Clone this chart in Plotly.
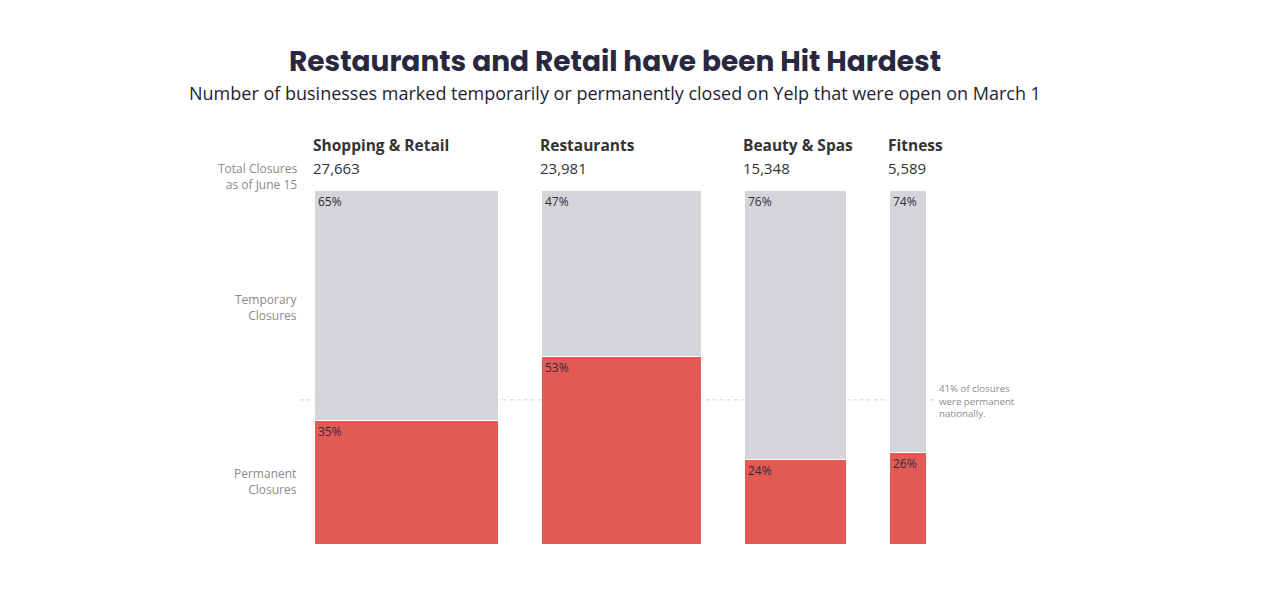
import plotly.graph_objects as go

categories = ["Shopping & Retail", "Restaurants", "Beauty & Spas", "Fitness"]
totals = [27663, 23981, 15348, 5589]
temp_pct = [65, 47, 76, 74]
perm_pct = [35, 53, 24, 26]
national_perm = 41

GAP = 6460
GREY = "#d5d4d9"
RED = "#e35a54"
TXT = "#333333"
PCT = "#2d2b3f"

lefts, centers = [], []
pos = 0
for t in totals:
    lefts.append(pos)
    centers.append(pos + t / 2)
    pos += t + GAP
xmax = pos - GAP

fig = go.Figure()
fig.add_trace(go.Bar(x=centers, y=[p / 100 for p in perm_pct], width=totals,
                     marker=dict(color=RED, line=dict(color="white", width=1)),
                     hoverinfo="skip"))
fig.add_trace(go.Bar(x=centers, y=[t / 100 for t in temp_pct], width=totals,
                     marker=dict(color=GREY, line=dict(color="white", width=1)),
                     hoverinfo="skip"))

ann = []
for i, c in enumerate(categories):
    ann.append(dict(x=lefts[i], y=1, xref="x", yref="paper", text="<b>" + c + "</b>",
                    showarrow=False, xanchor="left", yanchor="middle", yshift=46, xshift=-4,
                    font=dict(size=15.5, color=TXT, family="Open Sans")))
    ann.append(dict(x=lefts[i], y=1, xref="x", yref="paper", text=f"{totals[i]:,}",
                    showarrow=False, xanchor="left", yanchor="middle", yshift=23, xshift=-4,
                    font=dict(size=15, color=TXT, family="Open Sans")))
    ann.append(dict(x=lefts[i], y=1, xref="x", yref="y", text=f"{temp_pct[i]}%",
                    showarrow=False, xanchor="left", yanchor="top", xshift=1, yshift=0,
                    font=dict(size=12, color=PCT, family="Open Sans")))
    ann.append(dict(x=lefts[i], y=perm_pct[i] / 100, xref="x", yref="y", text=f"{perm_pct[i]}%",
                    showarrow=False, xanchor="left", yanchor="top", xshift=1, yshift=0,
                    font=dict(size=12, color=PCT, family="Open Sans")))

side_font = dict(size=12, color="#8a8a8a", family="Open Sans")
ann.append(dict(x=0, y=1, xref="paper", yref="paper", text="Total Closures<br>as of June 15",
                showarrow=False, xanchor="right", yanchor="middle", xshift=-16, yshift=15,
                align="right", font=side_font))
ann.append(dict(x=0, y=0.67, xref="paper", yref="paper", text="Temporary<br>Closures",
                showarrow=False, xanchor="right", yanchor="middle", xshift=-16,
                align="right", font=side_font))
ann.append(dict(x=0, y=0.18, xref="paper", yref="paper", text="Permanent<br>Closures",
                showarrow=False, xanchor="right", yanchor="middle", xshift=-16,
                align="right", font=side_font))
ann.append(dict(x=xmax, y=national_perm / 100, xref="x", yref="y",
                text=f"{national_perm}% of closures<br>were permanent<br>nationally.",
                showarrow=False, xanchor="left", yanchor="middle", xshift=10, yshift=-1,
                align="left", font=dict(size=9.7, color="#8a8a8a", family="Open Sans")))

L, R, T, B = 315 - 8, 1276 - (927 - 8), 191 - 8, 597 - (545 - 8)
PW, PH = 1276 - L - R, 597 - T - B

# title & subtitle: anchored to plot-area paper coords via pixel shifts
ann.append(dict(x=0.5, y=1, xref="paper", yref="paper",
                text="<b>Restaurants and Retail have been Hit Hardest</b>",
                showarrow=False, xanchor="center", yanchor="middle",
                xshift=(615 - 8) - (L + PW / 2), yshift=T - (61 - 8),
                font=dict(size=28, color="#2a2840", family="Poppins, Inter, Lato", weight=800)))
ann.append(dict(x=0.5, y=1, xref="paper", yref="paper",
                text="Number of businesses marked temporarily or permanently closed on Yelp that were open on March 1",
                showarrow=False, xanchor="center", yanchor="middle",
                xshift=(615 - 8) - (L + PW / 2), yshift=T - (93 - 8),
                font=dict(size=18, color="#1f1d33", family="Open Sans")))

fig.add_shape(type="line", xref="paper", yref="y", x0=-0.025, x1=1.013,
              y0=national_perm / 100, y1=national_perm / 100,
              line=dict(color="#d0d0d0", width=1, dash="4px,3px"), layer="below")

fig.update_layout(
    width=1276, height=597, barmode="stack", showlegend=False, bargap=0,
    plot_bgcolor="white", paper_bgcolor="white",
    margin=dict(l=L, r=R, t=T, b=B, autoexpand=False),
    xaxis=dict(range=[0, xmax], visible=False, fixedrange=True),
    yaxis=dict(range=[0, 1], visible=False, fixedrange=True),
    annotations=ann,
)
fig.write_html("out.html")
